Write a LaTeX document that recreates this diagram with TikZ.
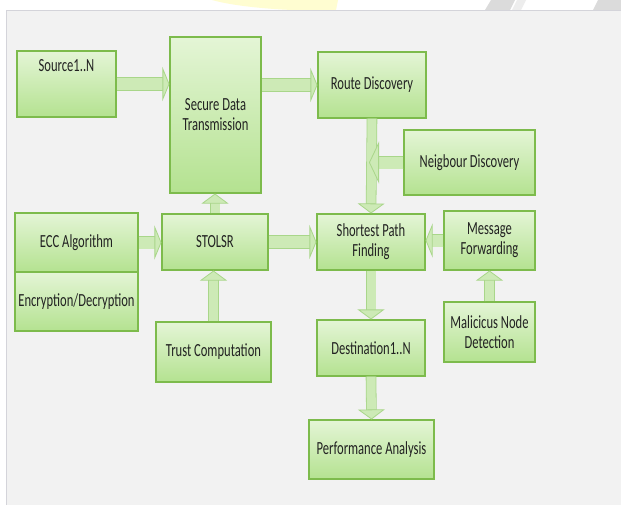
\documentclass[tikz,border=0pt]{standalone}
\usepackage{fontspec}
\setmainfont{Carlito}[FakeStretch=0.68]
\usetikzlibrary{arrows.meta}

\definecolor{boxtop}{HTML}{E4F5D6}
\definecolor{boxbot}{HTML}{B4E290}
\definecolor{boxline}{HTML}{7DBB4C}
\definecolor{flowfill}{HTML}{CDEAB6}
\definecolor{flowedge}{HTML}{A9D68A}
\definecolor{panel}{HTML}{F2F2F2}
\definecolor{panelline}{HTML}{D4D4DA}
\definecolor{txt}{HTML}{222222}

\tikzset{
  block/.style={draw=boxline, line width=1.1pt, top color=boxtop, bottom color=boxbot,
    text=txt, align=center, inner sep=2pt, font=\fontsize{18.5}{20}\selectfont},
  hflow/.style={draw=flowfill, line width=12pt,
    -{Triangle[length=7pt,width=34pt,line width=0.8pt,color=flowedge,fill=flowfill]},
    preaction={draw=flowedge, line width=13.6pt, -, shorten >=6.5pt}},
  vflow/.style={draw=flowfill, line width=9pt,
    -{Triangle[length=10pt,width=27pt,line width=0.8pt,color=flowedge,fill=flowfill]},
    preaction={draw=flowedge, line width=10.6pt, -, shorten >=9.5pt}},
  widehead/.style={-{Triangle[length=10pt,width=42pt,line width=0.8pt,color=flowedge,fill=flowfill]},
    preaction={draw=flowedge, line width=13.6pt, -, shorten >=9.5pt}}
}

\begin{document}
\begin{tikzpicture}[x=1pt,y=-1pt]

\useasboundingbox (0,0) rectangle (621,504);
\fill[white] (0,0) rectangle (621,504);

% watermark bits above the panel
\fill[yellow!18!white] (212,0) .. controls (240,8) and (300,12) .. (336,10) -- (338,0) -- cycle;
\fill[black!14] (485,10) -- (510,10) -- (515,0) -- (491,0) -- cycle;
\fill[black!7] (512,10) -- (521,10) -- (526,0) -- (517,0) -- cycle;
\fill[black!14] (593,10) -- (621,10) -- (621,0) -- (598,0) -- cycle;

\filldraw[fill=panel, draw=panelline, line width=1pt] (6,10) rectangle (630,510);

\node[block, minimum width=99pt, minimum height=66pt, text height=12pt, text depth=38pt] (src) at (66.5,84) {Source1..N};
\node[block, minimum width=91pt, minimum height=156pt] (sdt) at (215.5,115) {Secure Data\\Transmission};
\node[block, minimum width=108pt, minimum height=66pt] (rd) at (372,85) {Route Discovery};
\node[block, minimum width=131pt, minimum height=65pt] (nbr) at (469.5,162.5) {Neigbour Discovery};
\node[block, minimum width=123pt, minimum height=59pt] (ecc) at (76.5,242.5) {ECC Algorithm};
\node[block, minimum width=123pt, minimum height=59pt] (enc) at (76.5,301.5) {Encryption/Decryption};
\node[block, minimum width=106pt, minimum height=56pt] (stolsr) at (215,242) {STOLSR};
\node[block, minimum width=108pt, minimum height=56pt] (sp) at (371,242) {Shortest Path\\Finding};
\node[block, minimum width=91pt, minimum height=59pt] (mf) at (489.5,240.5) {Message\\Forwarding};
\node[block, minimum width=115pt, minimum height=60pt] (trust) at (213.5,352) {Trust Computation};
\node[block, minimum width=108pt, minimum height=56pt] (dest) at (371,348) {Destination1..N};
\node[block, minimum width=91pt, minimum height=60pt] (mal) at (489.5,332) {Malicicus Node\\Detection};
\node[block, minimum width=125pt, minimum height=59pt] (perf) at (371.5,449.5) {Performance Analysis};

% block arrows
\draw[hflow] (src.east) -- (src.east -| sdt.west);
\draw[hflow] (sdt.east |- rd.west) -- (rd.west);
\draw[vflow] (rd.south) -- (sp.north);
\draw[hflow, widehead] (nbr.west) -- ([xshift=-3pt]nbr.west -| rd.south);
\draw[hflow] (ecc.east) -- (ecc.east -| stolsr.west);
\draw[vflow] (stolsr.north) -- (stolsr.north |- sdt.south);
\draw[vflow] (trust.north) -- (trust.north |- stolsr.south);
\draw[hflow] (stolsr.east) -- (sp.west);
\draw[hflow] (mf.west) -- (mf.west -| sp.east);
\draw[vflow] (sp.south) -- (dest.north);
\draw[vflow] (mal.north) -- (mf.south);
\draw[vflow] (dest.south) -- (perf.north);

\end{tikzpicture}
\end{document}
